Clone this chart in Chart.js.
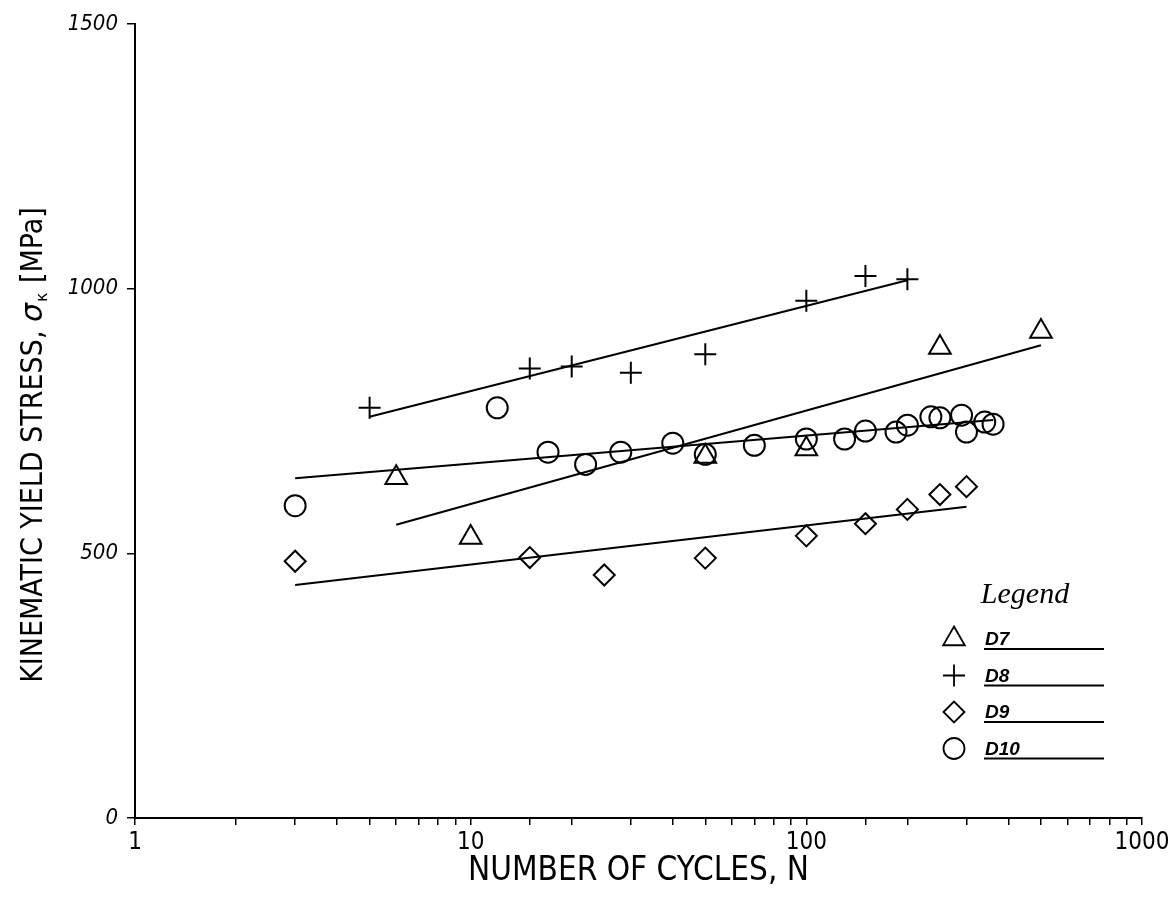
<!DOCTYPE html>
<html>
<head>
<meta charset="utf-8">
<script src="https://cdn.jsdelivr.net/npm/chart.js@4.4.1/dist/chart.umd.min.js"></script>
<style>
  html, body { margin: 0; padding: 0; background: #fff; }
</style>
</head>
<body>
<canvas id="myChart" width="1176" height="905"></canvas>
<script>
/* global Chart */

// series: number of cycles N and kinematic yield stress [MPa]
const seriesNames = ["D7", "D8", "D9", "D10"];

const d7Cycles = [6, 10, 50, 100, 250, 500];
const d7Stress = [643, 530, 683, 697, 889, 919];

const d8Cycles = [5, 15, 20, 30, 50, 100, 150, 200];
const d8Stress = [775, 849, 853, 841, 876, 977, 1024, 1018];

const d9Cycles = [3, 15, 25, 50, 100, 150, 200, 250, 300];
const d9Stress = [485, 492, 459, 491, 533, 556, 583, 611, 626];

const d10Cycles = [3, 12, 17, 22, 28, 40, 50, 70, 100, 130, 150, 185, 200, 235, 250, 290, 300, 340, 360];
const d10Stress = [590, 775, 691, 668, 691, 708, 687, 704, 716, 716, 731, 729, 742, 758, 756, 761, 729, 748, 744];

// fitted lines (end points)
const d7FitCycles = [6, 500];
const d7FitStress = [554, 893];
const d8FitCycles = [5, 200];
const d8FitStress = [758, 1016];
const d9FitCycles = [3, 300];
const d9FitStress = [440, 588];
const d10FitCycles = [3, 360];
const d10FitStress = [642, 752];

const xTicks = [1, 10, 100, 1000];
const yTicks = [0, 500, 1000, 1500];

const xTitle = "NUMBER OF CYCLES, N";
const yTitle = ["KINEMATIC YIELD STRESS, ", "\u03C3", "\u03BA", " [MPa]"];

const sans = "'Liberation Sans Narrow', 'DejaVu Sans Condensed', 'Liberation Sans', sans-serif";

const toPoints = (xs, ys) => xs.map((x, i) => ({ x: x, y: ys[i] }));

const markerSet = (label, xs, ys, style, radius) => ({
  label: label,
  data: toPoints(xs, ys),
  pointStyle: style,
  pointRadius: radius,
  pointBorderColor: "#000",
  pointBackgroundColor: "rgba(0,0,0,0)",
  pointBorderWidth: 2,
  showLine: false,
});

const fitSet = (xs, ys) => ({
  data: toPoints(xs, ys),
  showLine: true,
  borderColor: "#000",
  borderWidth: 2,
  pointRadius: 0,
  fill: false,
});

const markers = [
  markerSet(seriesNames[0], d7Cycles, d7Stress, "triangle", 12.5),
  markerSet(seriesNames[1], d8Cycles, d8Stress, "cross", 11),
  markerSet(seriesNames[2], d9Cycles, d9Stress, "rectRot", 10.5),
  markerSet(seriesNames[3], d10Cycles, d10Stress, "circle", 10.5),
];

// titles and the legend block of the original figure
const decorations = {
  id: "decorations",
  afterDraw(chart) {
    const { ctx, chartArea } = chart;
    ctx.save();
    ctx.fillStyle = "#000";
    ctx.strokeStyle = "#000";

    // x title
    ctx.font = "33px " + sans;
    ctx.textAlign = "center";
    ctx.textBaseline = "alphabetic";
    ctx.fillText(xTitle, (chartArea.left + chartArea.right) / 2, 880);

    // y title with subscript
    ctx.save();
    ctx.translate(42, 446);
    ctx.rotate(-Math.PI / 2);
    const main = "30px " + sans;
    const greek = "italic 30px 'DejaVu Sans', sans-serif";
    const sub = "16px 'DejaVu Sans', sans-serif";
    ctx.font = main;
    const w0 = ctx.measureText(yTitle[0]).width;
    const w3 = ctx.measureText(yTitle[3]).width;
    ctx.font = greek;
    const w1 = ctx.measureText(yTitle[1]).width;
    ctx.font = sub;
    const w2 = ctx.measureText(yTitle[2]).width;
    let x = -(w0 + w1 + w2 + w3) / 2;
    ctx.textAlign = "left";
    ctx.font = main;
    ctx.fillText(yTitle[0], x, 0);
    x += w0;
    ctx.font = greek;
    ctx.fillText(yTitle[1], x, 0);
    x += w1;
    ctx.font = sub;
    ctx.fillText(yTitle[2], x + 1, 5);
    x += w2 + 2;
    ctx.font = main;
    ctx.fillText(yTitle[3], x, 0);
    ctx.restore();

    // legend
    ctx.font = "italic 30px 'Liberation Serif', serif";
    ctx.textAlign = "center";
    ctx.fillText("Legend", 1025, 603);
    ctx.textAlign = "left";
    markers.forEach((ds, i) => {
      const y = 639 + i * 36.5;
      ctx.lineWidth = 1.8;
      ctx.fillStyle = "rgba(0,0,0,0)";
      Chart.helpers.drawPoint(ctx, { pointStyle: ds.pointStyle, radius: ds.pointRadius, rotation: 0, borderWidth: 1.8 }, 954, y);
      ctx.fillStyle = "#000";
      ctx.font = "bold italic 19px 'Liberation Sans', sans-serif";
      ctx.fillText(ds.label, 985, y + 6);
      ctx.lineWidth = 2;
      ctx.beginPath();
      ctx.moveTo(984, y + 10);
      ctx.lineTo(1104, y + 10);
      ctx.stroke();
    });
    ctx.restore();
  },
};

new Chart(document.getElementById("myChart"), {
  type: "scatter",
  data: {
    datasets: [
      ...markers,
      fitSet(d7FitCycles, d7FitStress),
      fitSet(d8FitCycles, d8FitStress),
      fitSet(d9FitCycles, d9FitStress),
      fitSet(d10FitCycles, d10FitStress),
    ],
  },
  options: {
    responsive: false,
    animation: false,
    layout: { padding: { left: 0, right: 34, top: 24, bottom: 0 } },
    plugins: {
      legend: { display: false },
      tooltip: { enabled: false },
    },
    scales: {
      x: {
        type: "logarithmic",
        min: 1,
        max: 1000,
        border: { display: true, color: "#000", width: 2 },
        grid: { drawOnChartArea: false, drawTicks: true, tickLength: 7, color: "#000", lineWidth: 1.5 },
        ticks: {
          autoSkip: false,
          maxRotation: 0,
          padding: 3,
          color: "#000",
          font: { family: sans, size: 24 },
          callback: (v) => (xTicks.includes(v) ? String(v) : ""),
        },
        afterFit: (scale) => { scale.height = 87; },
      },
      y: {
        type: "linear",
        min: 0,
        max: 1500,
        border: { display: true, color: "#000", width: 2 },
        grid: { drawOnChartArea: false, drawTicks: true, tickLength: 8, color: "#000", lineWidth: 1.5 },
        ticks: {
          stepSize: 500,
          padding: 9,
          color: "#000",
          font: { family: sans, size: 22, style: "italic" },
          callback: (v) => (yTicks.includes(v) ? String(v) : ""),
        },
        afterFit: (scale) => { scale.width = 135; },
      },
    },
  },
  plugins: [decorations],
});
</script>
</body>
</html>
